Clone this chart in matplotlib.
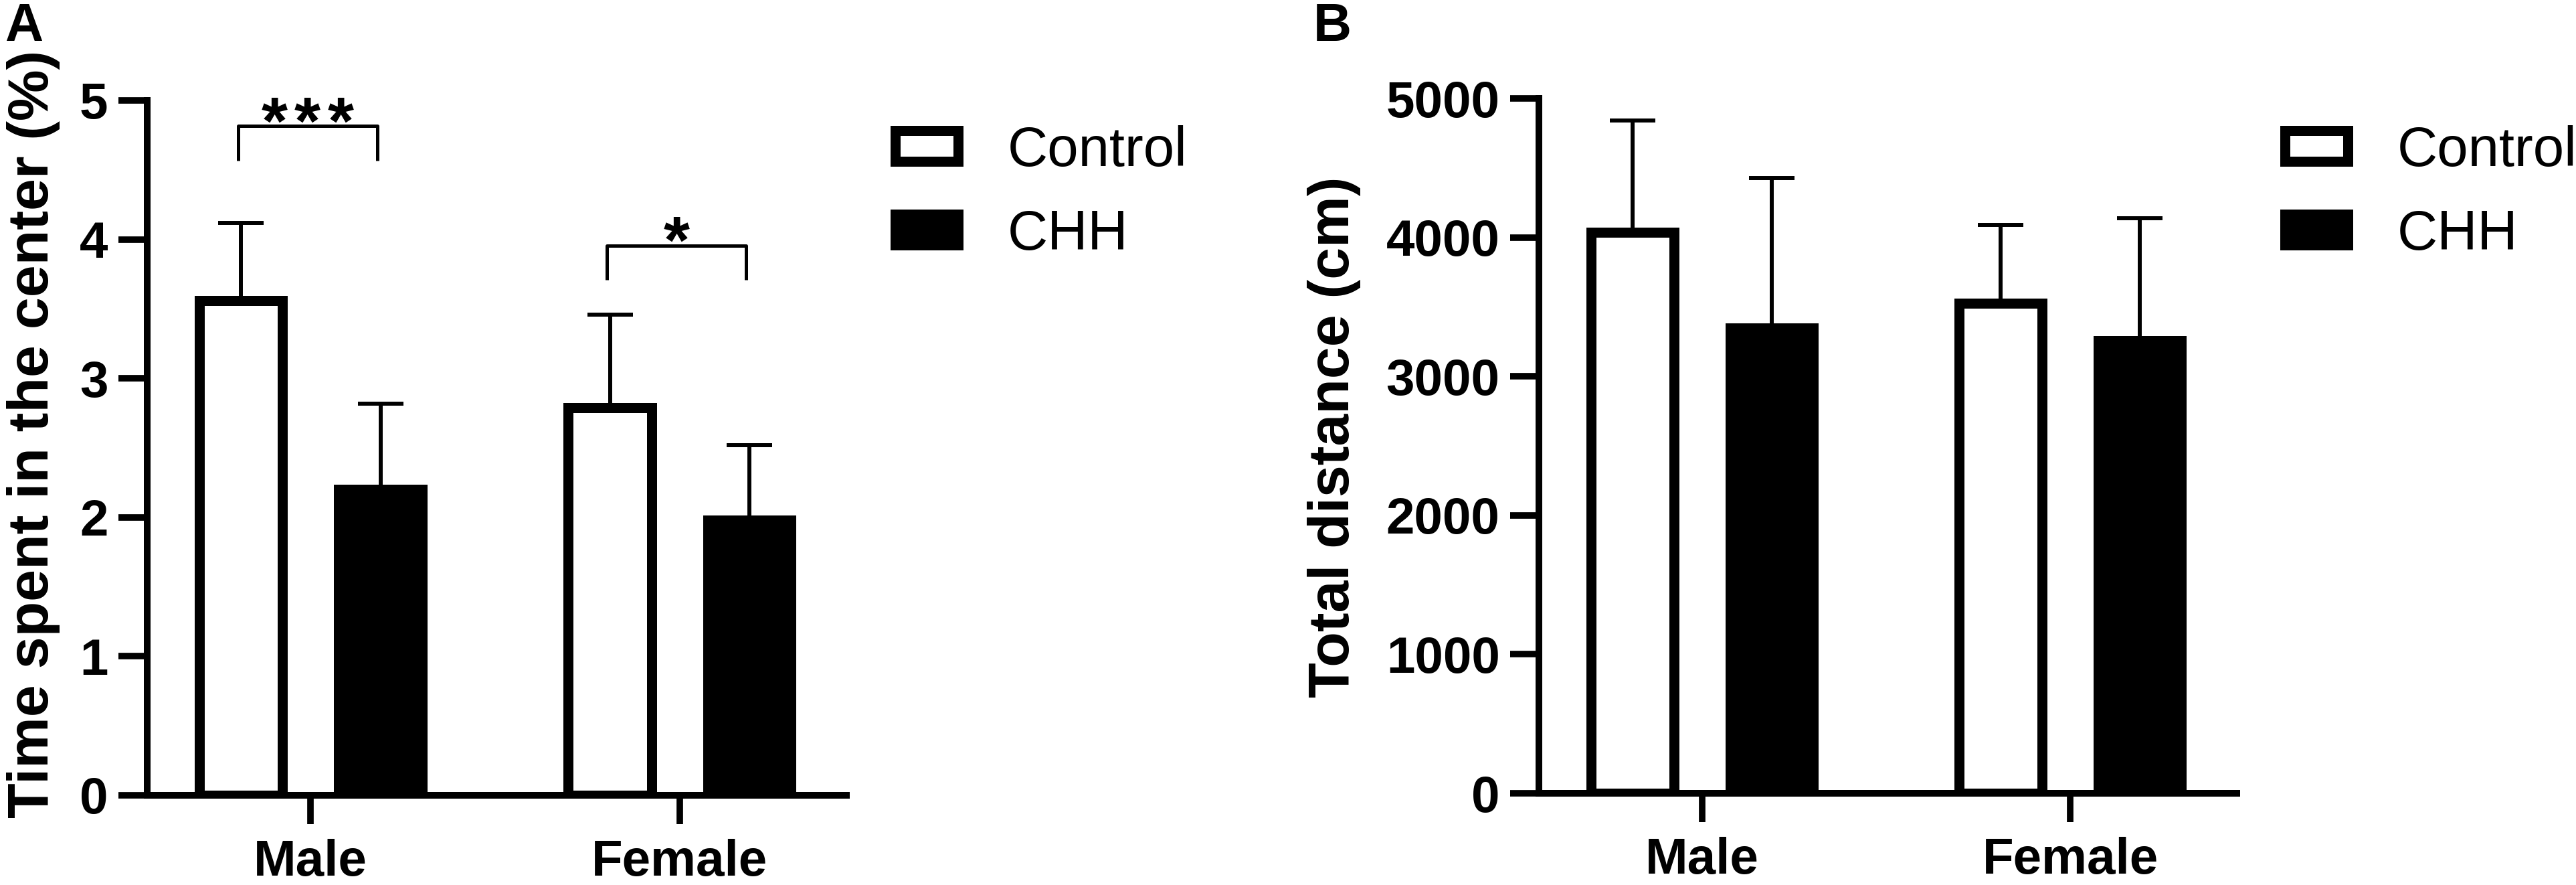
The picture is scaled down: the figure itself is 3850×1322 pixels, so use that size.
import matplotlib.pyplot as plt
import numpy as np

plt.rcParams['font.family'] = ['Liberation Sans', 'DejaVu Sans']

groups = ["Male", "Female"]
series = ["Control", "CHH"]

# A: time spent in the center (%), mean and upper SD
time_control = [3.56, 2.79]
time_control_sd = [0.56, 0.67]
time_chh = [2.20, 1.98]
time_chh_sd = [0.62, 0.54]
time_ticks = [0, 1, 2, 3, 4, 5]

# B: total distance (cm)
dist_control = [4035, 3525]
dist_control_sd = [805, 565]
dist_chh = [3350, 3255]
dist_chh_sd = [1075, 885]
dist_ticks = [0, 1000, 2000, 3000, 4000, 5000]

# significance brackets for A: group, stars, bracket top, leg bottom, star baseline
sig_groups = [0, 1]
sig_labels = ["***", "*"]
sig_top = [4.817, 3.955]
sig_leg = [4.566, 3.709]
sig_text_y = [4.69, 3.83]

W, H = 3850, 1322
fig = plt.figure(figsize=(W / 100, H / 100), dpi=100)

OFF = 0.189
BAR_W = 0.225
EDGE = 10.8


def draw_panel(rect, control, control_sd, chh, chh_sd, ticks, ylabel, label_xy, legend_x):
    ax = fig.add_axes(rect)
    x = np.arange(len(groups))
    b1 = ax.bar(x - OFF, control, BAR_W, color="white", edgecolor="black",
                linewidth=EDGE, zorder=3, label=series[0])
    b2 = ax.bar(x + OFF, chh, BAR_W, color="black", edgecolor="black",
                linewidth=EDGE, zorder=3, label=series[1])
    for xs, m, sd in [(x - OFF, control, control_sd), (x + OFF, chh, chh_sd)]:
        ax.errorbar(xs, m, yerr=[np.zeros(len(sd)), sd], fmt="none", ecolor="black",
                    elinewidth=4.3, capsize=24.5, capthick=4.3, zorder=2)

    ax.set_xlim(-0.443, 1.452)
    ax.set_ylim(ticks[0], ticks[-1])
    ax.set_yticks(ticks)
    ax.set_xticks(x)
    ax.set_xticklabels(groups)
    for side in ["top", "right"]:
        ax.spines[side].set_visible(False)
    for side in ["left", "bottom"]:
        ax.spines[side].set_linewidth(7.2)
    ax.tick_params(axis="both", width=7, length=31, labelsize=55, colors="black")
    ax.tick_params(axis="y", pad=11)
    ax.tick_params(axis="x", pad=16)
    for t in ax.get_xticklabels() + ax.get_yticklabels():
        t.set_fontweight("bold")

    ax.set_ylabel(ylabel, fontsize=62, fontweight="bold")
    ax.yaxis.set_label_coords(*label_xy)

    ax.legend(handles=[b1, b2], labels=series, loc="upper left",
              bbox_to_anchor=(legend_x, 0.8585), bbox_transform=fig.transFigure,
              frameon=False, fontsize=60, handlelength=1.13, handleheight=0.47,
              handletextpad=0.89, labelspacing=0.56, borderpad=0, borderaxespad=0)
    return ax


ax_a = draw_panel([220 / W, 1 - 1188 / H, 1045 / W, 1038 / H],
                  time_control, time_control_sd, time_chh, time_chh_sd, time_ticks,
                  "Time spent in the center (%)", (-0.1244, 0.52), 1337.5 / W)
ax_b = draw_panel([2300 / W, 1 - 1185 / H, 1043 / W, 1038 / H],
                  dist_control, dist_control_sd, dist_chh, dist_chh_sd, dist_ticks,
                  "Total distance (cm)", (-0.255, 0.5125), 3414.5 / W)

# brackets sit a touch left of the bar centres in the original
STAR_PITCH = 0.089
for g, lab, top, leg, ty in zip(sig_groups, sig_labels, sig_top, sig_leg, sig_text_y):
    x0, x1 = g - 0.197, g + 0.18
    ax_a.plot([x0, x0, x1, x1], [leg, top, top, leg], color="black", lw=3.6,
              solid_capstyle="butt", clip_on=False)
    xc = (x0 + x1) / 2
    n = len(lab)
    for i, ch in enumerate(lab):
        ax_a.text(xc + (i - (n - 1) / 2) * STAR_PITCH, ty, ch, ha="center",
                  va="baseline", fontsize=72, fontweight="bold", clip_on=False)

fig.text(7 / W, 1 - 3 / H, "A", fontsize=57, fontweight="bold", va="top", ha="left")
fig.text(1963 / W, 1 - 3 / H, "B", fontsize=57, fontweight="bold", va="top", ha="left")

fig.savefig("out.png", dpi=100)
